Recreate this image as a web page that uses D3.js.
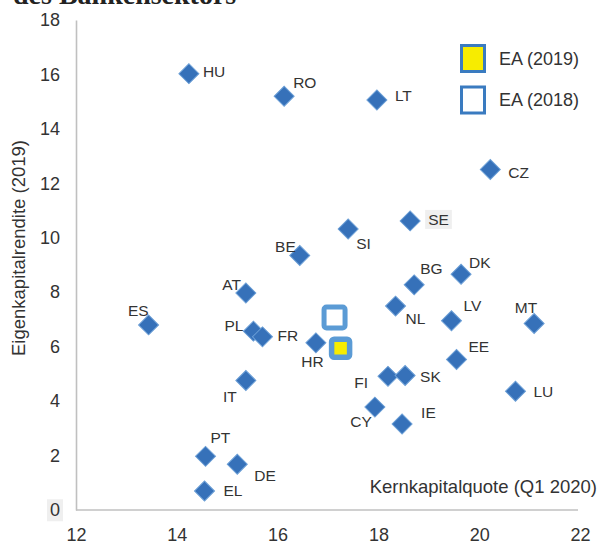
<!DOCTYPE html>
<html>
<head>
<meta charset="utf-8">
<script src="https://cdn.jsdelivr.net/npm/d3@7"></script>
<style>
  body { margin: 0; background: #fff; }
  text { font-family: "Liberation Sans", Arial, sans-serif; }
</style>
</head>
<body>
<div id="chart"></div>
<script>
// Werte
const countries = ["HU", "RO", "LT", "CZ", "SE", "SI", "BE", "BG", "DK", "AT", "NL", "LV", "MT", "ES",
    "PL", "FR", "HR", "EE", "FI", "SK", "LU", "IT", "CY", "IE", "PT", "DE", "EL"]
const kernkapital = [14.24, 16.13, 17.97, 20.22, 18.63, 17.40, 16.44, 18.71, 19.64, 15.37, 18.34, 19.45, 21.09, 13.44,
    15.52, 15.70, 16.76, 19.55, 18.19, 18.53, 20.72, 15.37, 17.93, 18.47, 14.57, 15.20, 14.55]
const rendite = [16.03, 15.20, 15.06, 12.51, 10.62, 10.32, 9.35, 8.27, 8.66, 7.97, 7.49, 6.95, 6.85, 6.80,
    6.57, 6.36, 6.14, 5.53, 4.91, 4.94, 4.36, 4.76, 3.78, 3.16, 1.97, 1.68, 0.70]
const ea2019 = [17.25, 5.94]
const ea2018 = [17.13, 7.07]
const xTicks = [12, 14, 16, 18, 20, 22]
const yTicks = [0, 2, 4, 6, 8, 10, 12, 14, 16, 18]

// label placement (dx, dy from marker centre, anchor)
const labelPos = {
    HU: [14, -1.6, "start"], RO: [9, -14, "start"], LT: [18, -4, "start"], CZ: [18, 2.7, "start"],
    SE: [18, -1.4, "start"], SI: [8, 14.7, "start"], BE: [-4, -9.3, "end"], BG: [6, -16.4, "start"],
    DK: [8, -11.3, "start"], AT: [-5, -8.7, "end"], NL: [10, 12.3, "start"], LV: [12, -15.7, "start"],
    MT: [3, -16, "end"], ES: [0, -14.7, "end"], PL: [-10, -6, "end"], FR: [15, -1.7, "start"],
    HR: [-3.5, 19, "middle"], EE: [12, -13.3, "start"], FI: [-20, 6.4, "end"], SK: [15, 0.7, "start"],
    LU: [18, 0, "start"], IT: [-9, 16.4, "end"], CY: [-3, 14.7, "end"], IE: [19, -11.3, "start"],
    PT: [5, -18.6, "start"], DE: [17, 11.7, "start"], EL: [19, -0.3, "start"]
}

const width = 600, height = 541
const svg = d3.select("#chart").append("svg")
    .attr("width", width)
    .attr("height", height)

const x = d3.scaleLinear().domain([12, 22]).range([76, 580])
const y = d3.scaleLinear().domain([0, 18]).range([510, 20])

// cut-off title at the top
svg.append("text")
    .attr("x", 13).attr("y", 4)
    .style("font-family", "'Liberation Serif', 'Times New Roman', serif")
    .style("font-weight", "bold")
    .style("font-size", "28px")
    .attr("fill", "#222")
    .text("des Bankensektors")

// axes
const xAxis = svg.append("g")
    .attr("transform", "translate(0,510)")
    .call(d3.axisBottom(x).tickValues(xTicks).tickSize(0).tickPadding(18).tickFormat(d3.format("d")))
const yAxis = svg.append("g")
    .attr("transform", "translate(76,0)")
    .call(d3.axisLeft(y).tickValues(yTicks).tickSize(0).tickPadding(16).tickFormat(d3.format("d")))

svg.selectAll(".domain").attr("stroke", "#c0c0c0").attr("stroke-width", 1.6)
xAxis.select(".domain").attr("d", "M76,0H578")
svg.selectAll(".tick text")
    .style("font-size", "18px")
    .style("font-family", "'Liberation Sans', Arial, sans-serif")
    .attr("fill", "#333")

// grey box behind the 0 label
yAxis.selectAll(".tick").filter(d => d === 0).each(function () {
    const t = d3.select(this).select("text")
    const b = t.node().getBBox()
    d3.select(this).insert("rect", "text")
        .attr("x", b.x - 3).attr("y", b.y - 1)
        .attr("width", b.width + 6).attr("height", b.height + 2)
        .attr("fill", "#efefef")
})

// axis titles
svg.append("text")
    .attr("transform", "translate(25,248) rotate(-90)")
    .attr("text-anchor", "middle")
    .style("font-size", "18.5px")
    .attr("fill", "#333")
    .text("Eigenkapitalrendite (2019)")

svg.append("text")
    .attr("x", 597).attr("y", 493)
    .attr("text-anchor", "end")
    .style("font-size", "18.5px")
    .attr("fill", "#333")
    .text("Kernkapitalquote (Q1 2020)")

// country diamonds
const points = countries.map((c, i) => ({ c: c, x: kernkapital[i], y: rendite[i] }))
const diamond = d3.symbol().type(d3.symbolSquare).size(200)

svg.append("g").selectAll("path")
    .data(points)
    .enter()
    .append("path")
    .attr("d", diamond)
    .attr("transform", d => "translate(" + x(d.x) + "," + y(d.y) + ") rotate(45)")
    .attr("fill", "#3671b9")
    .attr("stroke", "#6c9fd6")
    .attr("stroke-width", 1)

const labels = svg.append("g").selectAll("g")
    .data(points)
    .enter()
    .append("g")
    .attr("transform", d => "translate(" + (x(d.x) + labelPos[d.c][0]) + "," + (y(d.y) + labelPos[d.c][1]) + ")")

labels.append("text")
    .attr("dy", "0.35em")
    .attr("text-anchor", d => labelPos[d.c][2])
    .style("font-size", "15.5px")
    .attr("fill", "#333")
    .text(d => d.c)

// grey box behind SE
labels.filter(d => d.c === "SE").each(function () {
    const g = d3.select(this)
    const b = g.select("text").node().getBBox()
    g.insert("rect", "text")
        .attr("x", b.x - 3).attr("y", b.y - 1)
        .attr("width", b.width + 6).attr("height", b.height + 2)
        .attr("fill", "#efefef")
})

// euro area markers
svg.append("rect")
    .attr("x", x(ea2018[0]) - 10.5).attr("y", y(ea2018[1]) - 10.5)
    .attr("width", 21).attr("height", 21).attr("rx", 2.5)
    .attr("fill", "#fff")
    .attr("stroke", "#5b9bd5")
    .attr("stroke-width", 5)

svg.append("rect")
    .attr("x", x(ea2019[0]) - 9).attr("y", y(ea2019[1]) - 9)
    .attr("width", 18).attr("height", 18).attr("rx", 2.5)
    .attr("fill", "#f7ec00")
    .attr("stroke", "#5b9bd5")
    .attr("stroke-width", 5.5)

// legend
const legend = svg.append("g")
const legendItems = [["EA (2019)", "#f7ec00"], ["EA (2018)", "#fff"]]
legendItems.forEach((item, i) => {
    legend.append("rect")
        .attr("x", 461.5).attr("y", 45.5 + i * 41.5)
        .attr("width", 23).attr("height", 26)
        .attr("fill", item[1])
        .attr("stroke", "#3a7bc0")
        .attr("stroke-width", 3)
    legend.append("text")
        .attr("x", 499).attr("y", 58.5 + i * 41.5)
        .attr("dy", "0.35em")
        .style("font-size", "18px")
        .attr("fill", "#333")
        .text(item[0])
})
</script>
</body>
</html>
